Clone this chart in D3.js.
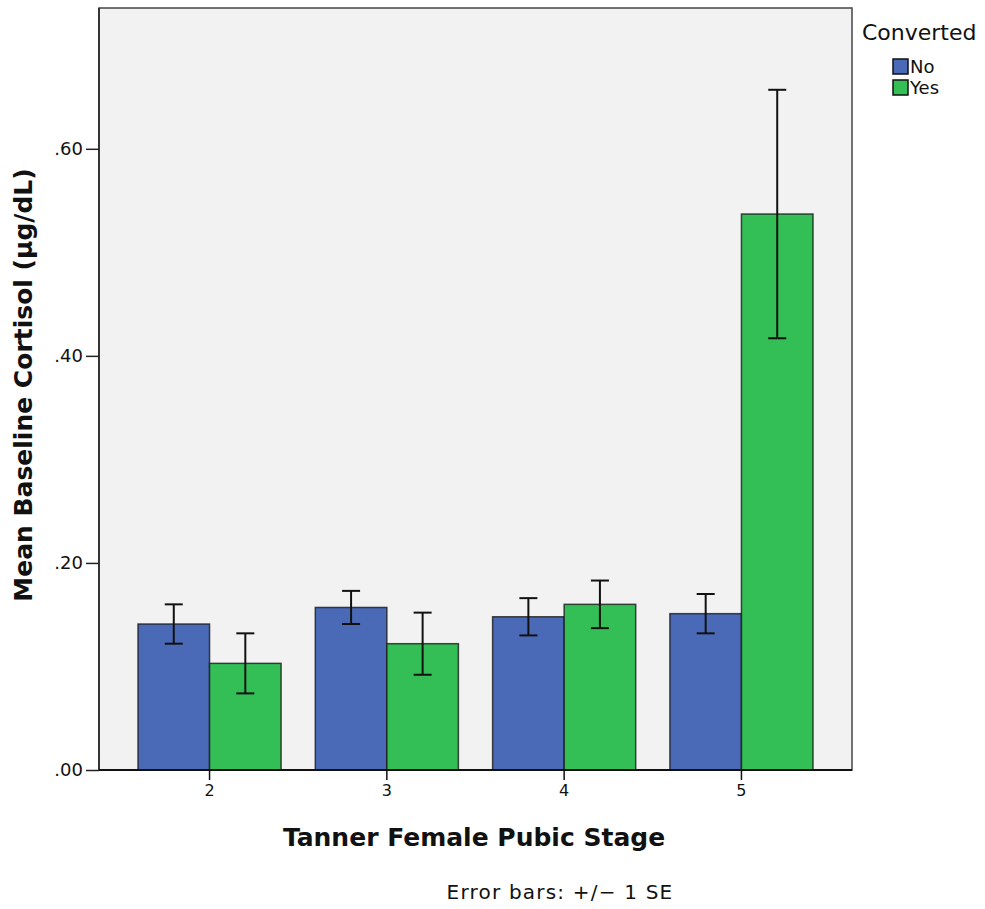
<!DOCTYPE html>
<html><head><meta charset="utf-8">
<script src="https://cdn.jsdelivr.net/npm/d3@7"></script>
<style>body{margin:0;background:#fff;} svg{display:block;}</style>
</head><body>
<svg id="chart" width="985" height="909"></svg>
<script>
const categories = ["2","3","4","5"];
const seriesNames = ["No","Yes"];
const meanNo  = [0.141, 0.157, 0.148, 0.151];
const meanYes = [0.103, 0.122, 0.160, 0.537];
const seNo    = [0.019, 0.016, 0.018, 0.019];
const seYes   = [0.029, 0.030, 0.023, 0.120];
const yTicks  = [0, 0.2, 0.4, 0.6];
const colors  = ["#4a6ab7", "#33bf56"];

const svg = d3.select("#chart");
const L = 99, R = 852, T = 8, B = 770;
const font = "'DejaVu Sans', Verdana, sans-serif";

const x = d3.scaleBand().domain(categories).range([L, R]).paddingInner(0.193).paddingOuter(0.22);
const xs = d3.scaleBand().domain(seriesNames).range([0, x.bandwidth()]);
const y = d3.scaleLinear().domain([0, 0.736]).range([B, T]);

svg.append("rect").attr("x", L).attr("y", T).attr("width", R - L).attr("height", B - T)
  .attr("fill", "#f2f2f2").attr("stroke", "#444").attr("stroke-width", 1.5);

const data = [];
categories.forEach((c, i) => {
  data.push({c, s: "No", v: meanNo[i], se: seNo[i], col: colors[0]});
  data.push({c, s: "Yes", v: meanYes[i], se: seYes[i], col: colors[1]});
});

svg.append("g").selectAll("rect").data(data).join("rect")
  .attr("x", d => x(d.c) + xs(d.s)).attr("y", d => y(d.v))
  .attr("width", xs.bandwidth()).attr("height", d => B - y(d.v))
  .attr("fill", d => d.col).attr("stroke", "#1a1a1a").attr("stroke-opacity", 0.8).attr("stroke-width", 1.5);

const eg = svg.append("g").attr("stroke", "#111").attr("stroke-width", 2);
data.forEach(d => {
  const cx = x(d.c) + xs(d.s) + xs.bandwidth() / 2;
  const y1 = y(d.v + d.se), y2 = y(d.v - d.se);
  eg.append("line").attr("x1", cx).attr("x2", cx).attr("y1", y1).attr("y2", y2);
  eg.append("line").attr("x1", cx - 9).attr("x2", cx + 9).attr("y1", y1).attr("y2", y1);
  eg.append("line").attr("x1", cx - 9).attr("x2", cx + 9).attr("y1", y2).attr("y2", y2);
});

// y axis
const ya = svg.append("g").attr("transform", `translate(${L},0)`)
  .call(d3.axisLeft(y).tickValues(yTicks).tickSize(13).tickSizeOuter(0).tickPadding(3).tickFormat(d => d3.format(".2f")(d).replace(/^0/, "")));
ya.select(".domain").attr("stroke", "#222").attr("stroke-width", 1.5).attr("d", `M0,${B}V${T}`);
ya.selectAll(".tick line").attr("stroke", "#222").attr("stroke-width", 1.5);
ya.selectAll("text").attr("font-family", font).attr("font-size", 18).attr("fill", "#111");

// x axis
const xa = svg.append("g").attr("transform", `translate(0,${B})`)
  .call(d3.axisBottom(x).tickSize(10).tickPadding(5).tickSizeOuter(0));
xa.select(".domain").attr("stroke", "#111").attr("stroke-width", 2).attr("d", `M${L},0H${R}`);
xa.selectAll(".tick line").attr("stroke", "#111").attr("stroke-width", 1.5);
xa.selectAll("text").attr("font-family", font).attr("font-size", 16).attr("fill", "#111");

svg.append("text").attr("transform", "translate(32,385) rotate(-90)").attr("text-anchor", "middle")
  .attr("font-family", font).attr("font-weight", "bold").attr("font-size", 25).attr("fill", "#111")
  .text("Mean Baseline Cortisol (μg/dL)");
svg.append("text").attr("x", 474).attr("y", 846).attr("text-anchor", "middle")
  .attr("font-family", font).attr("font-weight", "bold").attr("font-size", 25).attr("fill", "#111")
  .text("Tanner Female Pubic Stage");
svg.append("text").attr("x", 560).attr("y", 899).attr("text-anchor", "middle")
  .attr("font-family", font).attr("font-size", 20).attr("letter-spacing", 1.2).attr("fill", "#111")
  .text("Error bars: +/\u2212 1 SE");

// legend
svg.append("text").attr("x", 862).attr("y", 40).attr("font-family", font).attr("font-size", 22).attr("fill", "#111").text("Converted");
seriesNames.forEach((s, i) => {
  const yy = 59 + i * 21;
  svg.append("rect").attr("x", 893).attr("y", yy).attr("width", 15).attr("height", 15)
    .attr("fill", colors[i]).attr("stroke", "#111").attr("stroke-width", 1.5);
  svg.append("text").attr("x", 910).attr("y", yy + 14).attr("font-family", font).attr("font-size", 18).attr("fill", "#111").text(s);
});
</script>
</body></html>
